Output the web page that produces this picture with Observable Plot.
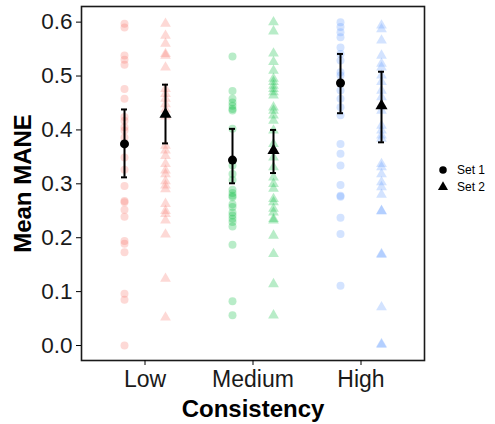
<!DOCTYPE html>
<html><head><meta charset="utf-8">
<script src="https://cdn.jsdelivr.net/npm/d3@7"></script>
<script src="https://cdn.jsdelivr.net/npm/@observablehq/plot@0.6"></script>
<style>
body{margin:0;background:#fff;font-family:"Liberation Sans",Arial,sans-serif;}
#wrap{position:relative;width:495px;height:424px;}
#legend{position:absolute;left:436px;top:161px;font-size:12px;color:#000;}
#legend div{display:flex;align-items:center;height:17px;}
#legend svg{width:14px;height:14px;margin-right:7px;}
</style></head><body><div id="wrap"><div id="legend"></div></div>
<script>
const categories = ["Low", "Medium", "High"];
const sets = ["Set 1", "Set 2"];
const colors = ["#F8766D", "#00BA38", "#619CFF"];
const yTicks = [0.0, 0.1, 0.2, 0.3, 0.4, 0.5, 0.6];

const lowSet1 = [0.597,0.590,0.538,0.530,0.521,0.476,0.458,0.424,0.417,0.405,0.399,0.386,0.349,0.326,0.296,0.268,0.266,0.252,0.239,0.194,0.189,0.173,0.096,0.085,0.000];
const lowSet2 = [0.597,0.575,0.560,0.541,0.538,0.516,0.476,0.467,0.458,0.448,0.438,0.425,0.371,0.362,0.352,0.337,0.325,0.318,0.305,0.297,0.290,0.263,0.250,0.244,0.232,0.206,0.124,0.052];
const medSet1 = [0.536,0.472,0.458,0.451,0.445,0.439,0.436,0.402,0.334,0.318,0.307,0.289,0.283,0.278,0.275,0.262,0.257,0.247,0.241,0.235,0.229,0.221,0.187,0.082,0.056];
const medSet2 = [0.600,0.583,0.542,0.526,0.510,0.495,0.489,0.482,0.476,0.470,0.464,0.442,0.436,0.427,0.417,0.399,0.374,0.349,0.331,0.312,0.300,0.291,0.272,0.266,0.254,0.247,0.235,0.232,0.204,0.170,0.114,0.056];
const highSet1 = [0.600,0.591,0.581,0.572,0.553,0.541,0.529,0.507,0.501,0.473,0.458,0.442,0.427,0.374,0.356,0.334,0.298,0.278,0.276,0.237,0.207,0.111];
const highSet2 = [0.594,0.587,0.566,0.538,0.523,0.516,0.501,0.489,0.473,0.461,0.436,0.408,0.399,0.390,0.384,0.337,0.331,0.318,0.303,0.294,0.280,0.250,0.249,0.170,0.168,0.071,0.003,0.001];

const meanSet1 = [0.374, 0.344, 0.487];
const lowerSet1 = [0.312, 0.301, 0.431];
const upperSet1 = [0.438, 0.402, 0.541];
const meanSet2 = [0.429, 0.362, 0.445];
const lowerSet2 = [0.375, 0.320, 0.377];
const upperSet2 = [0.484, 0.400, 0.508];

const raw = {"Set 1": [lowSet1, medSet1, highSet1], "Set 2": [lowSet2, medSet2, highSet2]};
const points = [];
sets.forEach(s => categories.forEach((c, i) => raw[s][i].forEach(v => points.push({cat: c, set: s, value: v}))));
const summary = [];
categories.forEach((c, i) => {
  summary.push({cat: c, set: "Set 1", mean: meanSet1[i], lo: lowerSet1[i], hi: upperSet1[i]});
  summary.push({cat: c, set: "Set 2", mean: meanSet2[i], lo: lowerSet2[i], hi: upperSet2[i]});
});

const dodge = {"Set 1": -20.5, "Set 2": 20.5};
const symbols = {"Set 1": "circle", "Set 2": "triangle"};
const capInset = 42.5;
const marks = [];
sets.forEach(s => {
  const pts = points.filter(d => d.set === s);
  const sm = summary.filter(d => d.set === s);
  const dx = dodge[s];
  marks.push(Plot.dot(pts, {x: "cat", y: "value", dx, fill: "cat", fillOpacity: 0.28, stroke: "none", r: 4, symbol: symbols[s]}));
  marks.push(Plot.ruleX(sm, {x: "cat", y1: "lo", y2: "hi", dx, stroke: "black", strokeWidth: 2}));
  marks.push(Plot.tickY(sm, {x: "cat", y: "lo", dx, stroke: "black", strokeWidth: 2, insetLeft: capInset, insetRight: capInset}));
  marks.push(Plot.tickY(sm, {x: "cat", y: "hi", dx, stroke: "black", strokeWidth: 2, insetLeft: capInset, insetRight: capInset}));
  marks.push(Plot.dot(sm, {x: "cat", y: "mean", dx, fill: "black", stroke: "none", r: 4.5, symbol: symbols[s]}));
});

const chart = Plot.plot({
  width: 495, height: 424,
  marginLeft: 81, marginRight: 71, marginTop: 6, marginBottom: 64,
  style: {fontFamily: "Liberation Sans, Arial, sans-serif", background: "white", color: "black"},
  x: {type: "band", domain: categories, padding: 0.161},
  y: {domain: [-0.0278, 0.629]},
  color: {domain: categories, range: colors},
  marks: [
    ...marks,
    Plot.frame({stroke: "#1a1a1a", strokeWidth: 1.6}),
    Plot.axisY({ticks: yTicks, tickFormat: d3.format(".1f"), tickSize: 5, tickPadding: 4, fontSize: 22.5, fill: "#1a1a1a",
      label: "Mean MANE", labelAnchor: "center", labelOffset: 68}),
    Plot.axisX({tickSize: 5, tickPadding: 5, fontSize: 23, fill: "#1a1a1a",
      label: "Consistency", labelAnchor: "center", labelOffset: 56})
  ]
});
chart.querySelectorAll("g[aria-label='y-axis label'] text, g[aria-label='x-axis label'] text").forEach(t => {
  t.textContent = t.textContent.replace(/[↑→←↓]/g, "").trim();
  t.setAttribute("font-weight", "bold"); t.setAttribute("font-size", "24"); t.setAttribute("fill", "#000");
});
document.getElementById("wrap").prepend(chart);

const legend = document.getElementById("legend");
sets.forEach(s => {
  const row = document.createElement("div");
  const svg = d3.create("svg").attr("viewBox", "-7 -7 14 14");
  svg.append("path").attr("d", d3.symbol(s === "Set 1" ? d3.symbolCircle : d3.symbolTriangle, s === "Set 1" ? 44 : 44)()).attr("fill", "black");
  row.appendChild(svg.node());
  row.appendChild(document.createTextNode(s));
  legend.appendChild(row);
});
</script>
</body></html>
